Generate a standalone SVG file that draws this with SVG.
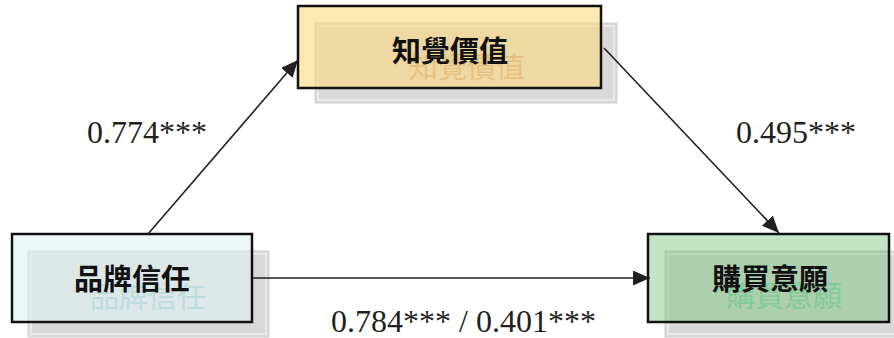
<svg xmlns="http://www.w3.org/2000/svg" width="894" height="338" viewBox="0 0 894 338">
<defs>
<style>
.sh{fill:#d9d9d9;stroke:#cfcfcf;stroke-width:1}
.shi{fill:none;stroke:#e8e8e8;stroke-width:2}
.box{stroke:#111;stroke-width:2.5}
.t{font-family:"Noto Sans CJK TC","Noto Sans CJK SC",sans-serif;font-weight:700;font-size:29px;fill:#111;text-anchor:middle}
.st{font-family:"Noto Sans CJK TC","Noto Sans CJK SC",sans-serif;font-weight:400;font-size:29px;text-anchor:middle}
.n{font-family:"Liberation Serif","Times New Roman",serif;font-size:32px;fill:#231f20}
.c{stroke:#231f20;stroke-width:1.6;fill:none;marker-end:url(#ah)}
</style>
<marker id="ah" markerUnits="userSpaceOnUse" markerWidth="18" markerHeight="16" refX="17" refY="7.5" orient="auto">
<path d="M0,0 L17,7.5 L0,15 z" fill="#231f20"/>
</marker>
</defs>
<rect width="894" height="338" fill="#fff"/>
<g id="node-value">
<rect class="sh" x="315" y="23" width="302" height="80"/>
<rect class="shi" x="318" y="26" width="296" height="74"/>
<text class="st" x="467" y="78" fill="#c8a07e">知覺價值</text>
<rect class="box" x="298" y="6" width="303" height="82" fill="rgb(252,217,127)" fill-opacity="0.6"/>
<text class="t" x="450" y="62">知覺價值</text>
</g>
<g id="node-trust">
<rect class="sh" x="28" y="251" width="241" height="86"/>
<rect class="shi" x="31" y="254" width="235" height="80"/>
<text class="st" x="148" y="308" fill="#8cbec1">品牌信任</text>
<rect class="box" x="12" y="234" width="240" height="88" fill="rgb(222,240,242)" fill-opacity="0.6"/>
<text class="t" x="132" y="290">品牌信任</text>
</g>
<g id="node-intent">
<rect class="sh" x="665" y="251" width="240" height="86"/>
<rect class="shi" x="668" y="254" width="234" height="80"/>
<text class="st" x="784" y="307" fill="#8fd2b4">購買意願</text>
<rect class="box" x="648" y="234" width="241" height="88" fill="rgb(118,196,122)" fill-opacity="0.45"/>
<text class="t" x="770" y="290">購買意願</text>
</g>
<g id="connectors">
<line class="c" x1="148" y1="234" x2="298" y2="60"/>
<line class="c" x1="604" y1="48" x2="779" y2="233"/>
<line class="c" x1="253" y1="278" x2="650" y2="278"/>
</g>
<g id="labels">
<text class="n" x="87" y="143">0.774***</text>
<text class="n" x="736" y="143">0.495***</text>
<text class="n" x="331" y="332">0.784*** / 0.401***</text>
</g>
</svg>
